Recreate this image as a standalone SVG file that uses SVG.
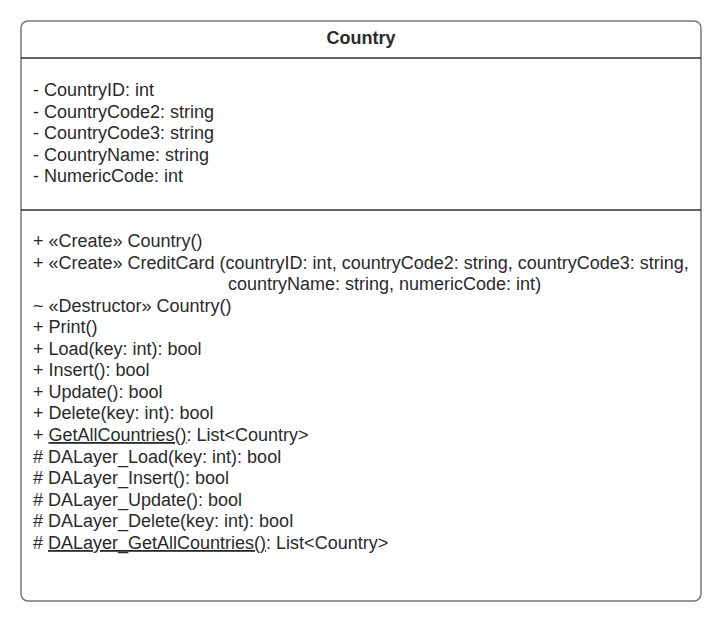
<svg xmlns="http://www.w3.org/2000/svg" width="721" height="621" viewBox="0 0 721 621">
<style>
.t{font-family:"Liberation Sans",Arial,sans-serif;font-size:18px;fill:#2a2a2a;}
.b{font-weight:bold;}
.u{text-decoration:underline;}
.sep{stroke:#333;stroke-width:1.3;}
</style>
<rect width="721" height="621" fill="#ffffff"/>
<g id="country">
<rect x="21" y="21" width="680" height="580" rx="7" ry="7" fill="#ffffff" stroke="#777" stroke-width="1.5"/>
<line class="sep" x1="21" y1="58" x2="701" y2="58"/>
<line class="sep" x1="21" y1="210" x2="701" y2="210"/>
<text class="t b" x="361" y="44" text-anchor="middle">Country</text>
<text class="t" x="33" y="96">- CountryID: int</text>
<text class="t" x="33" y="117.5">- CountryCode2: string</text>
<text class="t" x="33" y="139">- CountryCode3: string</text>
<text class="t" x="33" y="160.5">- CountryName: string</text>
<text class="t" x="33" y="182">- NumericCode: int</text>
<text class="t" x="33" y="247">+ «Create» Country()</text>
<text class="t" x="33" y="269">+ «Create» CreditCard (countryID: int, countryCode2: string, countryCode3: string,</text>
<text class="t" x="228" y="290">countryName: string, numericCode: int)</text>
<text class="t" x="33" y="312">~ «Destructor» Country()</text>
<text class="t" x="33" y="333">+ Print()</text>
<text class="t" x="33" y="355">+ Load(key: int): bool</text>
<text class="t" x="33" y="376">+ Insert(): bool</text>
<text class="t" x="33" y="398">+ Update(): bool</text>
<text class="t" x="33" y="419">+ Delete(key: int): bool</text>
<text class="t" x="33" y="441">+ <tspan class="u">GetAllCountries()</tspan>: List&lt;Country&gt;</text>
<text class="t" x="33" y="463"># DALayer_Load(key: int): bool</text>
<text class="t" x="33" y="484"># DALayer_Insert(): bool</text>
<text class="t" x="33" y="506"># DALayer_Update(): bool</text>
<text class="t" x="33" y="527"># DALayer_Delete(key: int): bool</text>
<text class="t" x="33" y="549"># <tspan class="u">DALayer_GetAllCountries()</tspan>: List&lt;Country&gt;</text>
</g>
<g id="connectors"></g>
</svg>
